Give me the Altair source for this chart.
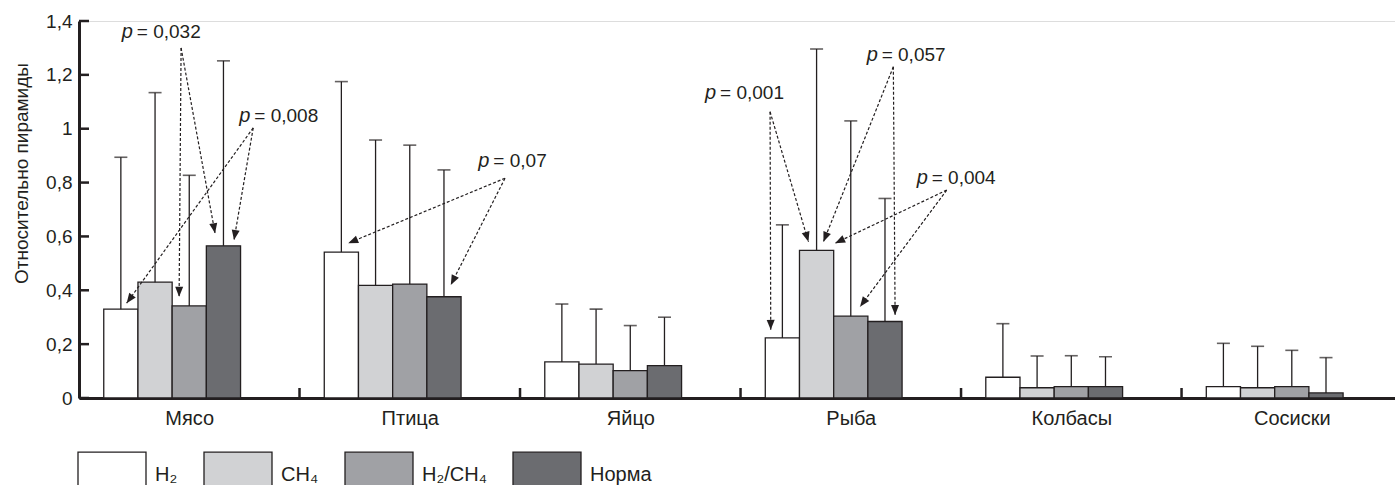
import math
import altair as alt
import pandas as pd

# ---------------- data ----------------
categories = ['Мясо', 'Птица', 'Яйцо', 'Рыба', 'Колбасы', 'Сосиски']
series = ['H₂', 'CH₄', 'H₂/CH₄', 'Норма']

mean_h2 = [0.330, 0.542, 0.134, 0.223, 0.077, 0.042]
mean_ch4 = [0.430, 0.418, 0.126, 0.548, 0.038, 0.038]
mean_h2ch4 = [0.342, 0.423, 0.102, 0.304, 0.042, 0.042]
mean_norma = [0.565, 0.376, 0.120, 0.284, 0.042, 0.019]

sd_h2 = [0.564, 0.633, 0.215, 0.420, 0.199, 0.161]
sd_ch4 = [0.704, 0.540, 0.204, 0.748, 0.118, 0.154]
sd_h2ch4 = [0.485, 0.516, 0.167, 0.725, 0.115, 0.135]
sd_norma = [0.687, 0.471, 0.180, 0.457, 0.111, 0.131]

y_ticks = [0, 0.2, 0.4, 0.6, 0.8, 1.0, 1.2, 1.4]

# p-value annotations: label, text anchor (x, y in data units), arrow start, arrow tips
ann_labels = ['0,032', '0,008', '0,07', '0,001', '0,057', '0,004']
ann_text_x = [0.194, 0.727, 1.811, 2.839, 3.572, 3.799]
ann_text_y = [1.359, 1.046, 0.881, 1.133, 1.272, 0.816]
ann_from = [(0.463, 1.300), (0.790, 1.003), (1.932, 0.816),
            (3.134, 1.063), (3.693, 1.230), (3.935, 0.772)]
ann_to = [[(0.454, 0.376), (0.617, 0.612)],
          [(0.216, 0.352), (0.703, 0.587)],
          [(1.221, 0.575), (1.686, 0.420)],
          [(3.137, 0.253), (3.308, 0.580)],
          [(3.376, 0.580), (3.701, 0.308)],
          [(3.429, 0.575), (3.542, 0.339)]]

# ---------------- layout / style ----------------
W, H = 1316, 377
XMAX, YMAX = 5.968, 1.4
PXX, PXY = W / XMAX, H / YMAX
BW = 34.2 / PXX
FONT = 'Liberation Sans Narrow, Liberation Sans, Arial, sans-serif'
INK = '#231f20'
colors = ['#ffffff', '#d1d2d4', '#a0a1a5', '#6b6c70']

means = [mean_h2, mean_ch4, mean_h2ch4, mean_norma]
sds = [sd_h2, sd_ch4, sd_h2ch4, sd_norma]
rows = []
for g, cat in enumerate(categories):
    for i, s in enumerate(series):
        x0 = g + 0.5 + (i - 2.5) * BW
        rows.append(dict(category=cat, series=s, x0=x0, x1=x0 + BW, xc=x0 + BW / 2,
                         zero=0.0, mean=means[i][g], up=means[i][g] + sds[i][g]))
df = pd.DataFrame(rows)

xs = alt.Scale(domain=[0, XMAX], nice=False, zero=False)
ys = alt.Scale(domain=[0, YMAX], nice=False)

lab_expr = '[' + ','.join("'%s'" % c for c in categories) + '][floor(datum.value)]'
x_axis = alt.Axis(values=[g + 0.5 for g in range(len(categories))], labelExpr=lab_expr,
                  ticks=False, grid=False, domainWidth=3, domainColor=INK, title=None,
                  labelFont=FONT, labelFontSize=20, labelColor=INK, labelPadding=10,
                  labelFlush=False, labelOverlap=False)
y_axis = alt.Axis(values=y_ticks, labelExpr="replace(format(datum.value, '.1~f'), '.', ',')",
                  ticks=False, grid=False, domainWidth=3, domainColor=INK,
                  labelFont=FONT, labelFontSize=19, labelColor=INK, labelPadding=7,
                  labelFlush=False, labelOverlap=False,
                  title='Относительно пирамиды', titleFont=FONT, titleFontSize=19,
                  titleFontWeight='normal', titleColor=INK, titleAngle=270,
                  titleX=-58, titleY=152, titleAlign='center', titleBaseline='middle')


def X(f):
    return alt.X(f, type='quantitative', scale=xs, axis=x_axis)


def Y(f):
    return alt.Y(f, type='quantitative', scale=ys, axis=y_axis)


legend = alt.Legend(orient='none', legendX=15, legendY=436, direction='horizontal', title=None,
                    symbolType='M-2,-1.35H2V0.65H-2Z', symbolSize=1156,
                    symbolStrokeColor=INK, symbolStrokeWidth=1.3, symbolOpacity=1,
                    labelFont=FONT, labelFontSize=20, labelColor=INK, labelOffset=25,
                    columnPadding=23, padding=0)

bars = alt.Chart(df).mark_rect(stroke=INK, strokeWidth=1.3).encode(
    x=X('x0'), x2='x1', y=Y('zero'), y2='mean',
    color=alt.Color('series:N', scale=alt.Scale(domain=series, range=colors), legend=legend))

err = alt.Chart(df).mark_rule(color=INK, strokeWidth=1.3).encode(
    x=X('xc'), y=Y('mean'), y2='up')
caps = alt.Chart(df).mark_tick(orient='horizontal', size=13, thickness=1.6, color=INK).encode(
    x=X('xc'), y=Y('up'))

gt = pd.DataFrame(dict(gx=list(range(1, len(categories))), y0=0.0, y1=10 / PXY))
group_ticks = alt.Chart(gt).mark_rule(color=INK, strokeWidth=2.5).encode(
    x=X('gx'), y=Y('y0'), y2='y1')

yt = pd.DataFrame(dict(yv=y_ticks))
ytick_marks = alt.Chart(yt).mark_rule(color=INK, strokeWidth=2.5).encode(
    x=alt.value(0), x2=alt.value(10), y=Y('yv'))

arows = []
for k, lab in enumerate(ann_labels):
    fx, fy = ann_from[k]
    for tx, ty in ann_to[k]:
        dxp = (tx - fx) * PXX
        dyp = -(ty - fy) * PXY
        ang = (math.degrees(math.atan2(dxp, -dyp)) + 360) % 360
        arows.append(dict(fx=fx, fy=fy, tx=tx, ty=ty, ang=ang))
adf = pd.DataFrame(arows)
arrow_lines = alt.Chart(adf).mark_rule(color=INK, strokeWidth=1.2, strokeDash=[3, 2]).encode(
    x=X('fx'), y=Y('fy'), x2='tx', y2='ty')
arrow_heads = alt.Chart(adf).mark_point(shape='M0,0L-0.8,2L0.8,2Z', filled=True, size=100,
                                        color=INK, opacity=1).encode(
    x=X('tx'), y=Y('ty'), angle=alt.Angle('ang:Q', scale=None))

tdf = pd.DataFrame(dict(tx=ann_text_x, ty=ann_text_y, p='p', val=['= ' + l for l in ann_labels]))
p_text = alt.Chart(tdf).mark_text(align='left', baseline='middle', font=FONT, fontSize=20,
                                  fontStyle='italic', color=INK).encode(
    x=X('tx'), y=Y('ty'), text='p:N')
v_text = alt.Chart(tdf).mark_text(align='left', baseline='middle', font=FONT, fontSize=19,
                                  dx=15, color=INK).encode(
    x=X('tx'), y=Y('ty'), text='val:N')

chart = alt.layer(bars, err, caps, group_ticks, ytick_marks, arrow_lines, arrow_heads,
                  p_text, v_text).properties(
    width=W, height=H,
    padding={'left': 79, 'top': 21, 'right': 0, 'bottom': 87},
    autosize=alt.AutoSizeParams(type='none'),
).configure_view(stroke=None).configure(background='white')

chart.save('out.html', embed_options={'renderer': 'svg', 'actions': False})
